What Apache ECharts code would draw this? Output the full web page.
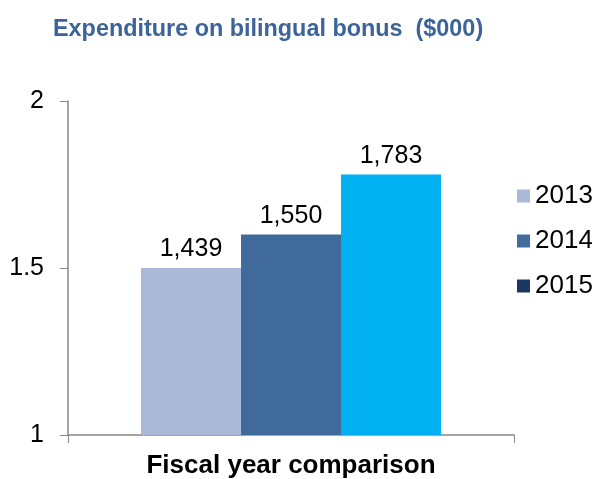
<!DOCTYPE html>
<html>
<head>
<meta charset="utf-8">
<script src="https://cdn.jsdelivr.net/npm/echarts@6/dist/echarts.min.js"></script>
<style>
  html, body { margin: 0; padding: 0; background: #ffffff; }
  #chart { width: 592px; height: 479px; }
</style>
</head>
<body>
<div id="chart"></div>
<script>
// data
var categories = ["Fiscal year comparison"];
var years = ["2013", "2014", "2015"];
var barValues = [1.5, 1.6, 1.78];          // bar heights on the axis
var valueLabels = ["1,439", "1,550", "1,783"]; // printed labels
var yTicks = [1, 1.5, 2];

var barColors = ["#aab9d8", "#406a9c", "#00b0f0"];
var legendColors = ["#a9b9d7", "#426b9e", "#1b3862"];

var font = "'Liberation Sans', Arial, sans-serif";

var chart = echarts.init(document.getElementById("chart"));

var series = years.map(function (y, i) {
  return {
    name: y,
    type: "bar",
    barWidth: 100,
    barGap: "0%",
    data: [barValues[i]],
    itemStyle: { color: barColors[i] },
    label: {
      show: true,
      position: "top",
      distance: 6,
      fontFamily: font,
      fontSize: 25,
      color: "#000",
      formatter: function () { return valueLabels[i]; }
    }
  };
});

var option = {
  animation: false,
  title: {
    text: "Expenditure on bilingual bonus  ($000)",
    left: 48,
    top: 13,
    textStyle: { fontFamily: font, fontSize: 23.4, fontWeight: "bold", color: "#3d6499" }
  },
  legend: {
    orient: "vertical",
    left: 512,
    top: 178,
    itemWidth: 13,
    itemHeight: 13,
    itemGap: 19,
    icon: "rect",
    textStyle: { fontFamily: font, fontSize: 26, color: "#000" },
    data: years.map(function (y, i) {
      return { name: y, itemStyle: { color: legendColors[i] } };
    })
  },
  grid: { left: 68, right: 78, top: 101, bottom: 43 },
  xAxis: {
    type: "category",
    data: categories,
    axisLine: { lineStyle: { color: "#888", width: 1.5 } },
    axisTick: { show: true, length: 8, lineStyle: { color: "#888" } },
    axisLabel: { margin: 18, fontFamily: font, fontSize: 26, fontWeight: "bold", color: "#000" }
  },
  yAxis: {
    type: "value",
    min: yTicks[0],
    max: yTicks[yTicks.length - 1],
    interval: 0.5,
    splitLine: { show: false },
    axisLine: { show: true, lineStyle: { color: "#888", width: 1.5 } },
    axisTick: { show: true, length: 8, lineStyle: { color: "#888" } },
    axisLabel: { margin: 24, fontFamily: font, fontSize: 25, color: "#000" }
  },
  series: series
};

chart.setOption(option);
</script>
</body>
</html>
